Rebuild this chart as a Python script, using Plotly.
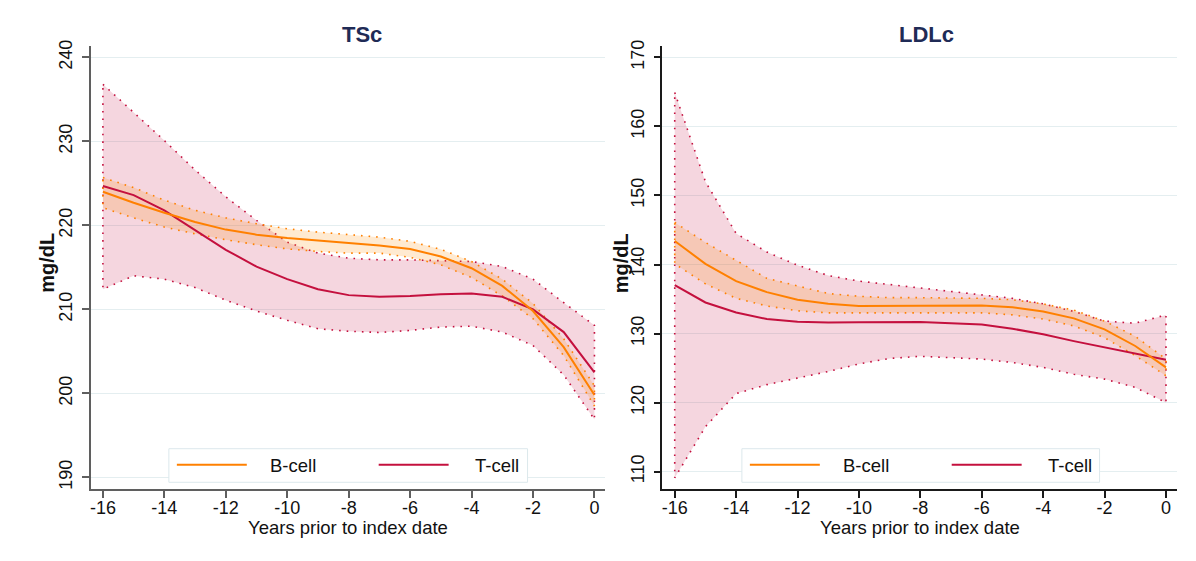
import plotly.graph_objects as go

# ---- data ---------------------------------------------------------------
years = list(range(-16, 1))

# TSc (mg/dL)
tsc_b = [224.0, 222.7, 221.5, 220.4, 219.5, 218.9, 218.5, 218.2, 217.9, 217.6,
         217.2, 216.3, 214.9, 212.8, 209.8, 205.5, 199.8]
tsc_b_hi = [225.7, 224.5, 223.0, 221.8, 220.9, 220.2, 219.6, 219.2, 218.9, 218.6,
            218.1, 217.15, 215.7, 213.6, 210.7, 206.5, 200.9]
tsc_b_lo = [222.1, 220.9, 219.8, 219.0, 218.3, 217.7, 217.2, 216.9, 216.7, 216.7,
            216.2, 215.3, 213.8, 211.6, 208.9, 204.5, 198.5]
tsc_t = [224.7, 223.6, 221.8, 219.4, 217.1, 215.1, 213.6, 212.4, 211.7, 211.5,
         211.6, 211.8, 211.9, 211.5, 210.0, 207.3, 202.5]
tsc_t_hi = [236.8, 233.5, 230.1, 226.6, 223.4, 220.6, 218.0, 216.7, 216.1, 215.9,
            215.9, 215.8, 215.7, 215.1, 213.6, 210.8, 208.1]
tsc_t_lo = [212.4, 214.0, 213.6, 212.6, 211.1, 209.8, 208.7, 207.7, 207.4, 207.25,
            207.5, 207.9, 208.0, 207.3, 205.7, 202.2, 196.9]

# LDLc (mg/dL)
ldl_b = [143.4, 140.1, 137.6, 136.0, 134.9, 134.3, 134.0, 134.0, 134.05, 134.1,
         134.05, 133.8, 133.2, 132.2, 130.6, 128.2, 125.1]
ldl_b_hi = [146.1, 143.2, 140.6, 138.0, 136.9, 135.8, 135.4, 135.2, 135.2, 135.2,
            135.1, 134.9, 134.3, 133.4, 131.8, 129.6, 126.3]
ldl_b_lo = [140.1, 137.2, 135.1, 134.0, 133.3, 133.0, 132.9, 132.9, 133.0, 133.0,
            133.0, 132.7, 132.1, 131.1, 129.4, 126.8, 123.9]
ldl_t = [137.0, 134.5, 133.05, 132.1, 131.7, 131.6, 131.65, 131.7, 131.67, 131.5,
         131.3, 130.7, 129.9, 128.9, 128.0, 127.0, 126.2]
ldl_t_hi = [164.9, 152.0, 144.5, 141.8, 139.9, 138.4, 137.6, 137.1, 136.6, 136.2,
            135.7, 135.1, 134.3, 133.2, 131.8, 131.5, 132.7]
ldl_t_lo = [109.1, 116.5, 121.3, 122.6, 123.6, 124.5, 125.6, 126.4, 126.7, 126.5,
            126.3, 125.8, 125.1, 124.1, 123.4, 122.2, 120.0]

x_ticks = list(range(-16, 1, 2))
x_tick_labels = ["-16", "-14", "-12", "-10", "-8", "-6", "-4", "-2", "0"]
tsc_ticks = [190, 200, 210, 220, 230, 240]
ldl_ticks = [110, 120, 130, 140, 150, 160, 170]

panel_titles = ["TSc", "LDLc"]
series_names = ["B-cell", "T-cell"]
y_title = "mg/dL"
x_title = "Years prior to index date"

# ---- styling ------------------------------------------------------------
W, H = 1196, 561
FONT = "Liberation Sans, Arial, sans-serif"
ORANGE = "#ff8000"
CRIMSON = "#c4103e"
ORANGE_FILL = "rgba(255,140,0,0.18)"
CRIMSON_FILL = "rgba(200,30,80,0.18)"
GRID = "#e4eef0"
TITLE_COLOR = "#1f2b56"


def px_x(v):
    return v / W


def px_y(v):
    return 1 - v / H


def band(xs, lo, hi, line_color, fill, xa, ya):
    bx = xs + xs[::-1] + [xs[0]]
    by = hi + lo[::-1] + [hi[0]]
    return go.Scatter(x=bx, y=by, mode="lines", fill="toself", fillcolor=fill,
                      line=dict(color=line_color, width=1.6, dash="1.6px,6px"),
                      hoverinfo="skip", showlegend=False, xaxis=xa, yaxis=ya)


def curve(xs, ys, color, name, xa, ya):
    return go.Scatter(x=xs, y=ys, mode="lines", name=name,
                      line=dict(color=color, width=2), showlegend=False,
                      xaxis=xa, yaxis=ya)


fig = go.Figure()
panels = [
    ("x", "y", tsc_b, tsc_b_lo, tsc_b_hi, tsc_t, tsc_t_lo, tsc_t_hi),
    ("x2", "y2", ldl_b, ldl_b_lo, ldl_b_hi, ldl_t, ldl_t_lo, ldl_t_hi),
]
for xa, ya, b, blo, bhi, t, tlo, thi in panels:
    fig.add_trace(band(years, tlo, thi, CRIMSON, CRIMSON_FILL, xa, ya))
    fig.add_trace(band(years, blo, bhi, ORANGE, ORANGE_FILL, xa, ya))
    fig.add_trace(curve(years, t, CRIMSON, series_names[1], xa, ya))
    fig.add_trace(curve(years, b, ORANGE, series_names[0], xa, ya))

# plot-area geometry in pixels
left_px = [(90, 605), (662, 1177)]
top_px, bot_px = 40.5, 489
axis_colors = ["#5f5f5f", "#1a1a1a"]

common_x = dict(showgrid=False, zeroline=False, showline=True, linewidth=1.5,
                ticks="outside", ticklen=7, tickwidth=1.5, tickvals=x_ticks,
                ticktext=x_tick_labels, ticklabelstandoff=-5,
                tickfont=dict(family=FONT, size=18, color="#111"),
                fixedrange=True)
common_y = dict(showgrid=True, gridcolor=GRID, gridwidth=1, zeroline=False,
                showline=True, linewidth=1.5, ticks="outside", ticklen=7,
                tickwidth=1.5, tickangle=-90, ticklabelstandoff=3,
                tickfont=dict(family=FONT, size=18, color="#111"),
                fixedrange=True)

fig.update_layout(
    xaxis=dict(common_x, domain=[px_x(left_px[0][0]), px_x(left_px[0][1])],
               range=[-16.39, 0.36], anchor="y", linecolor=axis_colors[0],
               tickcolor=axis_colors[0]),
    yaxis=dict(common_y, domain=[px_y(bot_px), px_y(top_px)],
               range=[188.63, 241.36], tickvals=tsc_ticks, anchor="x",
               linecolor=axis_colors[0], tickcolor=axis_colors[0]),
    xaxis2=dict(common_x, domain=[px_x(left_px[1][0]), px_x(left_px[1][1])],
                range=[-16.40, 0.36], anchor="y2", linecolor=axis_colors[1],
                tickcolor=axis_colors[1]),
    yaxis2=dict(common_y, domain=[px_y(bot_px), px_y(top_px)],
                range=[107.5, 171.65], tickvals=ldl_ticks, anchor="x2",
                linecolor=axis_colors[1], tickcolor=axis_colors[1]),
)

annotations = []
shapes = []
title_x = [361, 926]
ytitle_x = [46, 620]
xtitle_x = [347.5, 920]
legend_boxes = [(168, 527), (741.5, 1099.5)]
for i in range(2):
    annotations.append(dict(text="<b>%s</b>" % panel_titles[i], x=px_x(title_x[i]),
                            y=px_y(29), xref="paper", yref="paper",
                            showarrow=False, xanchor="center", yanchor="middle",
                            font=dict(family=FONT, size=22, color=TITLE_COLOR)))
    annotations.append(dict(text="<b>%s</b>" % y_title, x=px_x(ytitle_x[i]),
                            y=px_y(260), xref="paper", yref="paper",
                            showarrow=False, textangle=-90, xanchor="center",
                            yanchor="middle",
                            font=dict(family=FONT, size=20, color="#111")))
    annotations.append(dict(text=x_title, x=px_x(xtitle_x[i]), y=px_y(528),
                            xref="paper", yref="paper", showarrow=False,
                            xanchor="center", yanchor="middle",
                            font=dict(family=FONT, size=18.5, color="#111")))
    # key box
    lx0, lx1 = legend_boxes[i]
    shapes.append(dict(type="rect", xref="paper", yref="paper",
                       x0=px_x(lx0), x1=px_x(lx1), y0=px_y(482.3), y1=px_y(448.3),
                       line=dict(color="#dce8ec", width=1), fillcolor="white",
                       layer="above"))
    keys = [(lx0 + 8, ORANGE, lx0 + 99, series_names[0]),
            (lx0 + 210, CRIMSON, lx0 + 304, series_names[1])]
    for kx, kc, tx, name in keys:
        shapes.append(dict(type="line", xref="paper", yref="paper",
                           x0=px_x(kx), x1=px_x(kx + 70), y0=px_y(464.5),
                           y1=px_y(464.5), line=dict(color=kc, width=2),
                           layer="above"))
        annotations.append(dict(text=name, x=px_x(tx), y=px_y(465),
                                xref="paper", yref="paper", showarrow=False,
                                xanchor="left", yanchor="middle",
                                font=dict(family=FONT, size=18.5, color="#111")))

fig.update_layout(
    annotations=annotations,
    shapes=shapes,
    width=W, height=H,
    margin=dict(l=0, r=0, t=0, b=0),
    paper_bgcolor="white",
    plot_bgcolor="white",
    showlegend=False,
    font=dict(family=FONT, color="#111"),
)

fig.write_html("out.html", config={"displayModeBar": False})
